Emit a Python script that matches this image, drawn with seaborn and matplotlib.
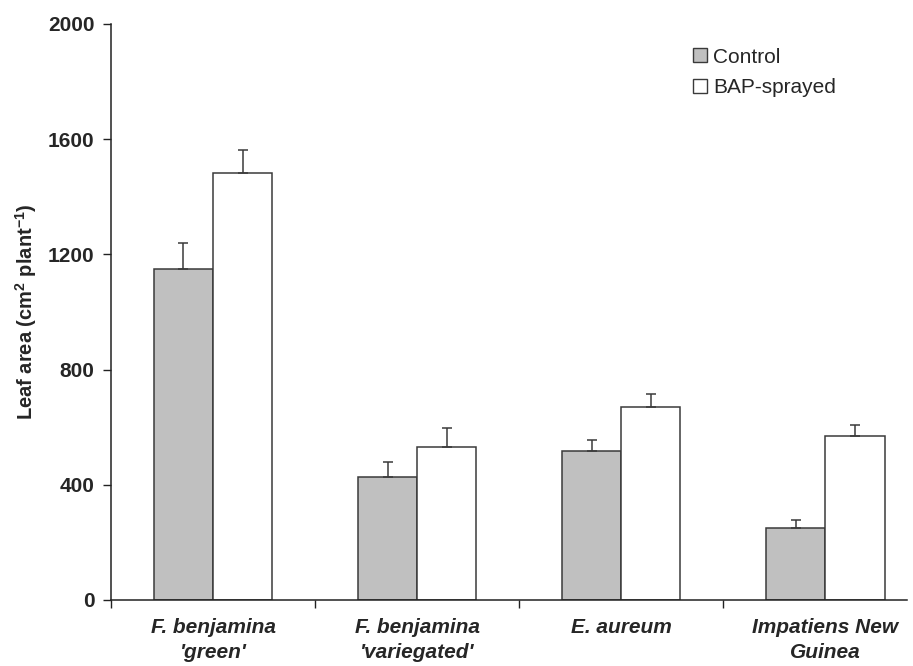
import numpy as np
import pandas as pd
import matplotlib
matplotlib.use("Agg")
import matplotlib.pyplot as plt
from matplotlib.patches import Patch
import seaborn as sns

# Leaf area per plant, means and standard errors
species = ["F. benjamina\n'green'", "F. benjamina\n'variegated'", "E. aureum", "Impatiens New\nGuinea"]
treatments = ["Control", "BAP-sprayed"]
control_mean = [1150, 427, 519, 249]
bap_mean = [1483, 532, 671, 569]
control_se = [90, 53, 37, 29]
bap_se = [78, 65, 44, 39]
y_ticks = [0, 400, 800, 1200, 1600, 2000]

df = pd.DataFrame({
    "species": species * 2,
    "treatment": [treatments[0]] * 4 + [treatments[1]] * 4,
    "area": control_mean + bap_mean,
    "se": control_se + bap_se,
})

sns.set_theme(style="white")
plt.rcParams["font.family"] = ["Liberation Sans", "DejaVu Sans"]
plt.rcParams["mathtext.fontset"] = "custom"
plt.rcParams["mathtext.bf"] = "Liberation Sans:bold"
plt.rcParams["mathtext.rm"] = "Liberation Sans"

fig = plt.figure(figsize=(9.13, 6.66), dpi=100)
ax = fig.add_axes([0.1216, 0.0991, 0.8718, 0.8649])

palette = {"Control": "#c0c0c0", "BAP-sprayed": "#ffffff"}
line_col = "#3a3a3a"
sns.barplot(data=df, x="species", y="area", hue="treatment", order=species,
            hue_order=treatments, palette=palette, errorbar=None, width=0.58,
            edgecolor=line_col, linewidth=1.1, saturation=1, legend=False, ax=ax)

# upward-only error bars at each bar's centre
for cont, trt in zip(ax.containers, treatments):
    sub = df[df["treatment"] == trt].set_index("species").loc[species]
    xs = [p.get_x() + p.get_width() / 2 for p in cont.patches]
    ax.errorbar(xs, sub["area"].values,
                yerr=[np.zeros(len(xs)), sub["se"].values],
                fmt="none", ecolor=line_col, elinewidth=1.1, capsize=3.3,
                capthick=1.1, zorder=3)

ax.set_ylim(0, 2000)
ax.set_xlim(-0.5, 3.40)
ax.set_yticks(y_ticks)
ax.set_yticklabels([str(v) for v in y_ticks], fontsize=15, fontweight="bold")

# category labels at centres, tick marks at group boundaries
ax.set_xticks(np.arange(len(species)))
ax.set_xticklabels(species, fontsize=15, fontweight="bold", style="italic",
                   linespacing=1.4)
ax.tick_params(axis="x", which="major", length=0, pad=13)
ax.set_xticks(np.arange(len(species)) - 0.5, minor=True)
ax.tick_params(axis="x", which="minor", length=6, width=1, direction="out",
               color="#222222", bottom=True)
ax.tick_params(axis="y", length=6, width=1, direction="out", color="#222222",
               left=True, pad=6)

ax.set_xlabel("")
ax.set_ylabel("Leaf area (cm$^{\\mathbf{2}}$ plant$^{\\mathbf{-1}}$)", fontsize=14.5,
              fontweight="bold", labelpad=6)

for s in ["top", "right"]:
    ax.spines[s].set_visible(False)
for s in ["left", "bottom"]:
    ax.spines[s].set_color("#222222")
    ax.spines[s].set_linewidth(1.1)

handles = [Patch(facecolor=palette[t], edgecolor=line_col, linewidth=1) for t in treatments]
ax.legend(handles, treatments, loc="upper left", bbox_to_anchor=(0.731, 0.959),
          frameon=False, fontsize=15, handlelength=0.68, handleheight=0.68,
          handletextpad=0.3, labelspacing=0.55, borderaxespad=0, borderpad=0)

ax.grid(False)
fig.savefig("out.png", dpi=100)
